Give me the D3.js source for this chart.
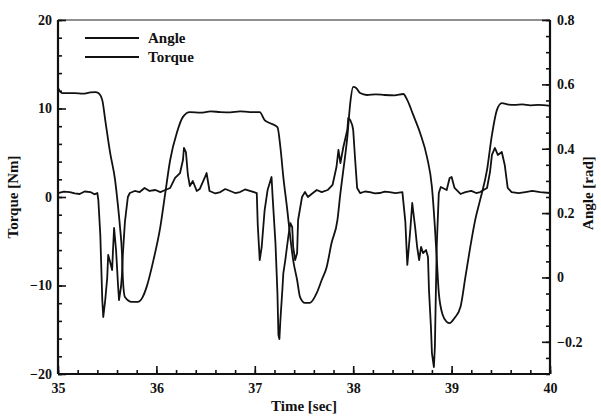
<!DOCTYPE html>
<html>
<head>
<meta charset="utf-8">
<script src="https://cdn.jsdelivr.net/npm/d3@7"></script>
<style>
  body { margin: 0; background: #fff; }
  svg text { font-family: "Liberation Serif", "Times New Roman", serif; font-weight: bold; fill: #111; }
</style>
</head>
<body>
<svg id="chart" width="601" height="420"></svg>
<script>
// Joint angle (rad) over time (s)
const angleTime = [35.00,35.04,35.17,35.25,35.33,35.38,35.41,35.45,35.48,35.53,35.58,35.60,35.63,35.65,35.66,35.68,35.75,35.81,35.86,35.90,35.97,36.04,36.09,36.14,36.21,36.27,36.34,36.45,36.55,36.65,36.75,36.85,36.95,37.05,37.10,37.15,37.23,37.26,37.29,37.33,37.36,37.39,37.43,37.46,37.51,37.56,37.63,37.68,37.73,37.78,37.84,37.87,37.90,37.94,37.97,38.00,38.03,38.07,38.14,38.23,38.32,38.42,38.51,38.55,38.61,38.68,38.75,38.80,38.83,38.85,38.87,38.91,38.95,38.98,39.03,39.09,39.14,39.19,39.24,39.29,39.36,39.41,39.46,39.51,39.58,39.64,39.72,39.80,39.88,40.00];
const angleValue = [0.589,0.573,0.573,0.571,0.575,0.576,0.573,0.551,0.489,0.387,0.303,0.250,0.157,0.076,-0.008,-0.061,-0.076,-0.076,-0.061,-0.030,0.054,0.157,0.262,0.365,0.452,0.499,0.514,0.512,0.516,0.514,0.513,0.516,0.514,0.514,0.489,0.480,0.467,0.405,0.312,0.210,0.126,0.054,-0.008,-0.061,-0.079,-0.079,-0.048,-0.008,0.032,0.107,0.179,0.262,0.334,0.436,0.542,0.592,0.589,0.573,0.567,0.569,0.567,0.566,0.570,0.551,0.505,0.449,0.374,0.281,0.157,0.054,-0.048,-0.117,-0.138,-0.142,-0.126,-0.092,0.001,0.095,0.179,0.241,0.334,0.443,0.520,0.542,0.537,0.536,0.538,0.535,0.536,0.533];

// Joint torque (Nm) over time (s)
const torqueTime = [35.00,35.06,35.12,35.17,35.22,35.27,35.33,35.37,35.40,35.41,35.43,35.45,35.46,35.48,35.50,35.51,35.53,35.55,35.56,35.57,35.59,35.61,35.62,35.64,35.65,35.66,35.68,35.71,35.73,35.78,35.83,35.88,35.93,35.99,36.04,36.09,36.14,36.19,36.24,36.27,36.28,36.30,36.32,36.34,36.37,36.41,36.44,36.49,36.51,36.54,36.60,36.65,36.70,36.75,36.80,36.85,36.90,36.95,37.02,37.03,37.05,37.07,37.10,37.13,37.17,37.18,37.21,37.23,37.24,37.25,37.26,37.28,37.29,37.31,37.34,37.36,37.38,37.39,37.41,37.43,37.44,37.48,37.51,37.54,37.59,37.63,37.68,37.74,37.79,37.83,37.85,37.87,37.90,37.94,37.95,37.97,37.99,38.00,38.02,38.04,38.07,38.12,38.17,38.22,38.27,38.32,38.37,38.43,38.50,38.53,38.55,38.58,38.60,38.63,38.65,38.67,38.69,38.71,38.74,38.76,38.77,38.79,38.80,38.82,38.83,38.84,38.85,38.87,38.89,38.95,38.98,39.00,39.03,39.09,39.14,39.20,39.25,39.29,39.36,39.39,39.41,39.44,39.47,39.51,39.54,39.57,39.61,39.68,39.75,39.82,39.90,40.00];
const torqueValue = [0.45,0.60,0.56,0.40,0.34,0.62,0.56,0.30,0.45,-0.34,-4.29,-11.64,-13.56,-11.64,-9.15,-6.55,-7.34,-8.25,-5.76,-3.50,-5.99,-9.94,-11.64,-10.17,-8.81,-6.33,-2.82,0.00,0.45,0.68,0.56,1.02,0.68,0.79,0.56,0.79,1.02,2.15,2.71,4.18,5.54,5.08,2.49,1.24,1.81,0.68,0.90,2.15,2.71,0.68,0.40,0.56,0.90,0.68,0.45,0.56,0.85,0.68,0.45,-3.16,-7.12,-5.65,-1.47,0.79,2.26,0.23,-5.20,-10.85,-15.59,-16.05,-13.90,-10.51,-8.59,-7.12,-4.52,-2.94,-3.39,-5.65,-7.12,-6.33,-2.60,0.00,0.56,0.00,0.45,0.79,0.56,0.79,1.36,3.39,5.31,3.84,5.65,7.57,8.93,8.70,8.14,7.57,4.18,1.02,0.45,0.62,0.56,0.40,0.45,0.60,0.56,0.45,0.56,-2.82,-7.68,-3.73,-0.68,-3.50,-5.65,-7.12,-5.65,-6.33,-5.99,-6.78,-10.51,-14.69,-17.63,-19.21,-16.95,-10.85,-5.20,0.45,1.13,0.79,2.15,2.26,1.02,0.34,0.56,0.70,0.45,0.56,1.02,2.82,4.75,5.54,4.75,5.08,3.62,1.02,0.56,0.45,0.56,0.68,0.56,0.45];

const timeTicks = [35, 36, 37, 38, 39, 40];
const torqueTicks = [20, 10, 0, -10, -20];
const angleTicks = [0.8, 0.6, 0.4, 0.2, 0, -0.2];
const legendLabels = ["Angle", "Torque"];

const svg = d3.select("#chart");
const plotLeft = 58, plotRight = 550, plotTop = 20, plotBottom = 374;

const x = d3.scaleLinear().domain([35, 40]).range([plotLeft, plotRight]);
const yT = d3.scaleLinear().domain([-20, 20]).range([plotBottom, plotTop]);
const yA = d3.scaleLinear().domain([-0.3, 0.8]).range([plotBottom, plotTop]);

// frame
svg.append("line").attr("x1", plotLeft).attr("x2", plotRight).attr("y1", plotTop).attr("y2", plotTop)
  .attr("stroke", "#222").attr("stroke-width", 1.2);
svg.append("line").attr("x1", plotLeft).attr("x2", plotLeft).attr("y1", plotTop).attr("y2", plotBottom)
  .attr("stroke", "#111").attr("stroke-width", 2.2);
svg.append("line").attr("x1", plotRight).attr("x2", plotRight).attr("y1", plotTop).attr("y2", plotBottom)
  .attr("stroke", "#111").attr("stroke-width", 2.2);
svg.append("line").attr("x1", plotLeft).attr("x2", plotRight).attr("y1", plotBottom).attr("y2", plotBottom)
  .attr("stroke", "#111").attr("stroke-width", 2);

function styleAxis(g) {
  g.select(".domain").remove();
  g.selectAll("line").attr("stroke", "#111").attr("stroke-width", 1.6);
  g.selectAll("text").attr("font-size", 14).attr("font-family", "Liberation Serif, serif")
    .attr("font-weight", "bold").attr("fill", "#111");
}

// minor ticks
const minorX = d3.range(35, 40.001, 0.2);
const minorT = d3.range(-20, 20.001, 2);
const minorA = d3.range(-0.3, 0.8001, 0.05);

svg.append("g").attr("transform", `translate(0,${plotBottom})`)
  .call(d3.axisBottom(x).tickValues(minorX).tickSize(-4).tickFormat(""))
  .call(styleAxis);
svg.append("g").attr("transform", `translate(${plotLeft},0)`)
  .call(d3.axisLeft(yT).tickValues(minorT).tickSize(-4).tickFormat(""))
  .call(styleAxis);
svg.append("g").attr("transform", `translate(${plotRight},0)`)
  .call(d3.axisRight(yA).tickValues(minorA).tickSize(-4).tickFormat(""))
  .call(styleAxis);

// major ticks with labels
svg.append("g").attr("transform", `translate(0,${plotBottom})`)
  .call(d3.axisBottom(x).tickValues(timeTicks).tickSize(-8).tickPadding(9).tickFormat(d3.format("d")))
  .call(styleAxis);
svg.append("g").attr("transform", `translate(${plotLeft},0)`)
  .call(d3.axisLeft(yT).tickValues(torqueTicks).tickSize(-8).tickPadding(6).tickFormat(d3.format("d")))
  .call(styleAxis);
svg.append("g").attr("transform", `translate(${plotRight},0)`)
  .call(d3.axisRight(yA).tickValues(angleTicks).tickSize(-8).tickPadding(7).tickFormat(d => d === 0 ? "0" : d3.format(".1f")(d)))
  .call(styleAxis);

// axis titles
svg.append("text").attr("x", (plotLeft + plotRight) / 2).attr("y", 411).attr("text-anchor", "middle")
  .attr("font-size", 15).text("Time [sec]");
svg.append("text").attr("transform", `translate(18,${(plotTop + plotBottom) / 2}) rotate(-90)`)
  .attr("text-anchor", "middle").attr("font-size", 15).text("Torque [Nm]");
svg.append("text").attr("transform", `translate(593,${(plotTop + plotBottom) / 2 - 4}) rotate(-90)`)
  .attr("text-anchor", "middle").attr("font-size", 15).text("Angle [rad]");

// curves
const angleLine = d3.line().x((d, i) => x(angleTime[i])).y(d => yA(d)).curve(d3.curveMonotoneX);
const torqueLine = d3.line().x((d, i) => x(torqueTime[i])).y(d => yT(d)).curve(d3.curveLinear);

svg.append("path").attr("d", angleLine(angleValue)).attr("fill", "none")
  .attr("stroke", "#111").attr("stroke-width", 1.8).attr("stroke-linejoin", "round");
svg.append("path").attr("d", torqueLine(torqueValue)).attr("fill", "none")
  .attr("stroke", "#111").attr("stroke-width", 1.8).attr("stroke-linejoin", "round");

// legend
const legend = svg.append("g");
legendLabels.forEach((name, i) => {
  const ly = 38 + i * 19;
  legend.append("line").attr("x1", 85).attr("x2", 139).attr("y1", ly).attr("y2", ly)
    .attr("stroke", "#111").attr("stroke-width", 1.8);
  legend.append("text").attr("x", 148).attr("y", ly + 5).attr("font-size", 15).text(name);
});
</script>
</body>
</html>
